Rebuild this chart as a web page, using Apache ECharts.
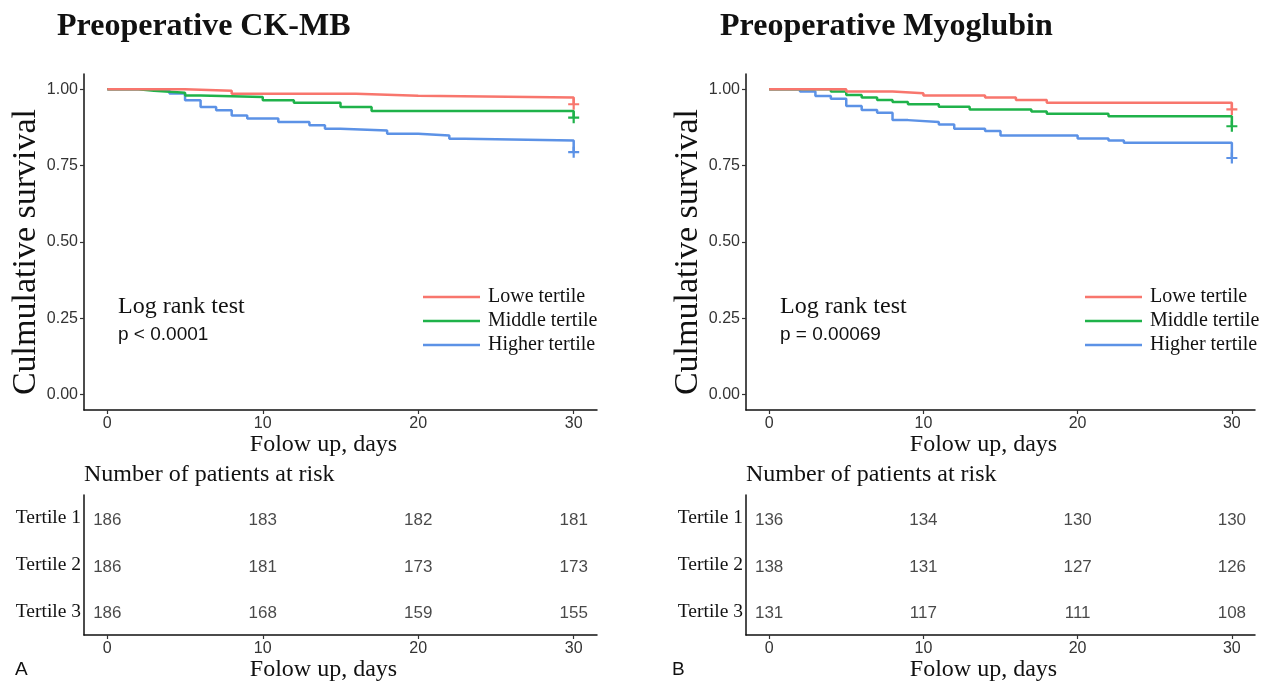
<!DOCTYPE html>
<html>
<head>
<meta charset="utf-8">
<script src="https://cdn.jsdelivr.net/npm/echarts@6/dist/echarts.min.js"></script>
<style>
  html, body { margin: 0; padding: 0; background: #fff; }
  #chart { width: 1265px; height: 683px; }
</style>
</head>
<body>
<div id="chart"></div>
<script>
// Kaplan-Meier steps (day, survival)
const ckLowDays = [0, 5, 8, 16, 20, 30];
const ckLowSurv = [1, 0.995, 0.985, 0.979, 0.973, 0.951];
const ckMidDays = [0, 2, 3, 5, 6, 10, 12, 15, 17, 30];
const ckMidSurv = [1, 0.995, 0.989, 0.980, 0.975, 0.964, 0.956, 0.942, 0.929, 0.907];
const ckHighDays = [0, 3, 4, 5, 6, 7, 8, 9, 11, 13, 14, 15, 18, 20, 22, 23, 30];
const ckHighSurv = [1, 0.995, 0.986, 0.964, 0.942, 0.931, 0.914, 0.904, 0.893, 0.882, 0.871, 0.865, 0.854, 0.849, 0.838, 0.832, 0.794];

const myoLowDays = [0, 5, 8, 10, 14, 16, 18, 30];
const myoLowSurv = [1, 0.993, 0.987, 0.980, 0.973, 0.965, 0.956, 0.934];
const myoMidDays = [0, 4, 5, 6, 7, 8, 9, 11, 13, 17, 18, 22, 30];
const myoMidSurv = [1, 0.993, 0.981, 0.973, 0.965, 0.958, 0.951, 0.943, 0.934, 0.927, 0.920, 0.912, 0.879];
const myoHighDays = [0, 2, 3, 4, 5, 6, 7, 8, 9, 11, 12, 14, 15, 20, 22, 23, 30];
const myoHighSurv = [1, 0.993, 0.978, 0.969, 0.945, 0.932, 0.923, 0.899, 0.893, 0.885, 0.871, 0.863, 0.849, 0.839, 0.832, 0.825, 0.775];

// numbers at risk
const riskDays = [0, 10, 20, 30];
const tertiles = ['Tertile 1', 'Tertile 2', 'Tertile 3'];
const ckRisk1 = [186, 183, 182, 181];
const ckRisk2 = [186, 181, 173, 173];
const ckRisk3 = [186, 168, 159, 155];
const myoRisk1 = [136, 134, 130, 130];
const myoRisk2 = [138, 131, 127, 126];
const myoRisk3 = [131, 117, 111, 108];

const groupNames = ['Lowe tertile', 'Middle tertile', 'Higher tertile'];
const colors = ['#F8766D', '#1FB24A', '#5C92E6'];
const dayTicks = [0, 10, 20, 30];
const survTicks = [0, 0.25, 0.5, 0.75, 1];

const SERIF = '"Liberation Serif", "DejaVu Serif", serif';
const SANS = '"Liberation Sans", Arial, sans-serif';
const plus = 'path://M4,0H6V4H10V6H6V10H4V6H0V4H4Z';

const chart = echarts.init(document.getElementById('chart'));

function kmData(days, surv) {
  return days.map((d, i) => {
    const item = { value: [d, surv[i]] };
    if (i === days.length - 1) { item.symbol = plus; item.symbolSize = 11; }
    return item;
  });
}

function riskData(counts) {
  const out = [];
  counts.forEach((row, r) => {
    row.forEach((n, i) => out.push([riskDays[i], tertiles[r], n]));
  });
  return out;
}

const axisLine = { show: true, onZero: false, lineStyle: { color: '#111', width: 1.5 } };
const axisTick = { show: true, length: 4, lineStyle: { color: '#333', width: 1.2 } };

function dayAxis(gridIndex, nameGap) {
  return {
    type: 'value', gridIndex: gridIndex, min: -1.5, max: 31.5,
    name: 'Folow up, days', nameLocation: 'middle', nameGap: nameGap,
    nameTextStyle: { fontFamily: SERIF, fontSize: 24, color: '#111', padding: [0, 34, 0, 0] },
    axisLine: axisLine,
    axisTick: Object.assign({ customValues: dayTicks }, axisTick),
    axisLabel: { customValues: dayTicks, fontFamily: SANS, fontSize: 16, color: '#333', margin: 6 },
    splitLine: { show: false }
  };
}

function survAxis(gridIndex) {
  return {
    type: 'value', gridIndex: gridIndex, min: -0.05, max: 1.05,
    name: 'Culmulative survival', nameLocation: 'middle', nameGap: 41, nameRotate: 90,
    nameTextStyle: { fontFamily: SERIF, fontSize: 34, color: '#111', padding: [0, 20, 0, 0] },
    axisLine: axisLine,
    axisTick: Object.assign({ customValues: survTicks }, axisTick),
    axisLabel: { customValues: survTicks, fontFamily: SANS, fontSize: 16, color: '#333', margin: 6,
      formatter: v => v.toFixed(2) },
    splitLine: { show: false }
  };
}

function riskAxis(gridIndex) {
  return {
    type: 'category', gridIndex: gridIndex, inverse: true, data: tertiles,
    axisLine: axisLine, axisTick: { show: false },
    axisLabel: { fontFamily: SERIF, fontSize: 19.5, color: '#111', margin: 3 }
  };
}

const kmSets = [
  [[ckLowDays, ckLowSurv], [ckMidDays, ckMidSurv], [ckHighDays, ckHighSurv]],
  [[myoLowDays, myoLowSurv], [myoMidDays, myoMidSurv], [myoHighDays, myoHighSurv]]
];
const riskSets = [[ckRisk1, ckRisk2, ckRisk3], [myoRisk1, myoRisk2, myoRisk3]];

const series = [];
kmSets.forEach((set, p) => {
  set.forEach((s, g) => {
    series.push({
      name: groupNames[g], type: 'line', step: 'end',
      xAxisIndex: p * 2, yAxisIndex: p * 2,
      showSymbol: true, symbol: 'none',
      lineStyle: { color: colors[g], width: 2.5 },
      itemStyle: { color: colors[g] },
      data: kmData(s[0], s[1]),
      silent: true, z: 3 - g
    });
  });
  series.push({
    type: 'scatter', xAxisIndex: p * 2 + 1, yAxisIndex: p * 2 + 1,
    symbolSize: 0, silent: true,
    label: { show: true, position: 'inside', formatter: d => d.value[2],
      fontFamily: SANS, fontSize: 17, color: '#1a1a1a', offset: [0, 2] },
    data: riskData(riskSets[p])
  });
});

const legendBase = {
  orient: 'vertical', icon: 'rect', itemWidth: 57, itemHeight: 2.5, itemGap: 4, padding: 0,
  data: groupNames, selectedMode: false,
  textStyle: { fontFamily: SERIF, fontSize: 20, color: '#111', padding: [0, 0, 0, 3] }
};

function label(x, y, text, font) {
  return { type: 'text', x: x, y: y, silent: true,
    style: { text: text, font: font, fill: '#111', verticalAlign: 'middle' } };
}

function panelText(axisX, titleX, pText, letterX, letter) {
  return [
    label(titleX, 27, letter === 'A' ? 'Preoperative CK-MB' : 'Preoperative Myoglubin', 'bold 32px ' + SERIF),
    label(axisX + 34, 307, 'Log rank test', '24px ' + SERIF),
    label(axisX + 34, 335, pText, '19px ' + SANS),
    label(axisX, 475, 'Number of patients at risk', '24px ' + SERIF),
    label(letterX, 670, letter, '19px ' + SANS)
  ];
}

chart.setOption({
  backgroundColor: '#fff',
  animation: false,
  grid: [
    { left: 84, top: 74, width: 513, height: 336 },
    { left: 84, top: 495, width: 513, height: 140 },
    { left: 746, top: 74, width: 509, height: 336 },
    { left: 746, top: 495, width: 509, height: 140 }
  ],
  xAxis: [dayAxis(0, 13), dayAxis(1, 15), dayAxis(2, 13), dayAxis(3, 15)],
  yAxis: [survAxis(0), riskAxis(1), survAxis(2), riskAxis(3)],
  legend: [
    Object.assign({ left: 423, top: 287 }, legendBase),
    Object.assign({ left: 1085, top: 287 }, legendBase)
  ],
  graphic: panelText(84, 57, 'p < 0.0001', 15, 'A')
    .concat(panelText(746, 720, 'p = 0.00069', 672, 'B')),
  series: series
});
</script>
</body>
</html>
